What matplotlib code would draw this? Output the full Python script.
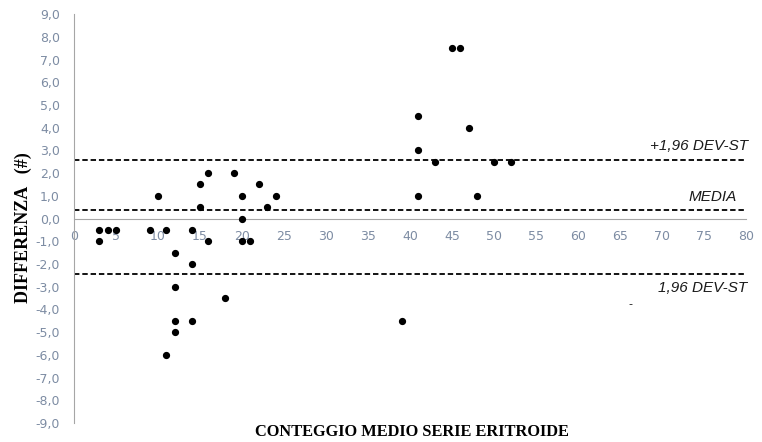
import numpy as np
import matplotlib.pyplot as plt

# mean count (x) vs difference (y)
media_conteggio = [3, 3, 4, 5, 9, 10, 11, 11, 12, 12, 12, 12, 14, 14, 14, 15, 15, 16, 16,
                   18, 19, 20, 20, 20, 21, 22, 23, 24,
                   39, 41, 41, 41, 43, 45, 46, 47, 48, 50, 52]
differenza = [-0.5, -1.0, -0.5, -0.5, -0.5, 1.0, -0.5, -6.0, -1.5, -3.0, -4.5, -5.0, -0.5, -2.0, -4.5, 1.5, 0.5, 2.0, -1.0,
              -3.5, 2.0, 1.0, 0.0, -1.0, -1.0, 1.5, 0.5, 1.0,
              -4.5, 4.5, 3.0, 1.0, 2.5, 7.5, 7.5, 4.0, 1.0, 2.5, 2.5]

media = 0.37
lim_sup = 2.57
lim_inf = -2.43

fig = plt.figure(figsize=(7.62, 4.42), dpi=100)
ax = fig.add_axes([0.097, 0.043, 0.882, 0.925])

ax.plot(media_conteggio, differenza, 'o', color='black', markersize=4.2, zorder=3)

for yv in [lim_sup, media, lim_inf]:
    ax.axhline(yv, color='black', linestyle=(0, (3, 1.6)), linewidth=1.3)

ax.set_xlim(0, 80)
ax.set_ylim(-9, 9)
ax.set_xticks(np.arange(0, 81, 5))
ax.set_yticks(np.arange(-9, 10, 1))
ax.set_yticklabels([f"{v:.1f}".replace('.', ',') for v in np.arange(-9, 10, 1)])

ax.spines['top'].set_visible(False)
ax.spines['right'].set_visible(False)
ax.spines['bottom'].set_position(('data', 0))
ax.spines['left'].set_color('#a6a6a6')
ax.spines['bottom'].set_color('#a6a6a6')
ax.tick_params(length=0, labelsize=9, labelcolor='#7d8ca3', pad=8)
ax.tick_params(axis='y', pad=10)

ax.text(80.2, lim_sup + 0.3, '+1,96 DEV-ST', style='italic', fontsize=11, ha='right', va='bottom',
        family='Liberation Sans', color='#1a1a1a')
ax.text(78.9, media + 0.25, 'MEDIA', style='italic', fontsize=11, ha='right', va='bottom',
        family='Liberation Sans', color='#1a1a1a')
ax.text(80.2, lim_inf - 0.3, '1,96 DEV-ST', style='italic', fontsize=11, ha='right', va='top',
        family='Liberation Sans', color='#1a1a1a')
ax.text(66.3, -3.75, '-', fontsize=8, ha='center', va='center', color='#1a1a1a')

fig.text(0.03, 0.485, 'DIFFERENZA   (#)', rotation=90, ha='center', va='center',
         family='Liberation Serif', fontweight='bold', fontsize=13)
fig.text(0.541, 0.022, 'CONTEGGIO MEDIO SERIE ERITROIDE', ha='center', va='center',
         family='Liberation Serif', fontweight='bold', fontsize=11.8)

fig.savefig('out.png', dpi=100)
